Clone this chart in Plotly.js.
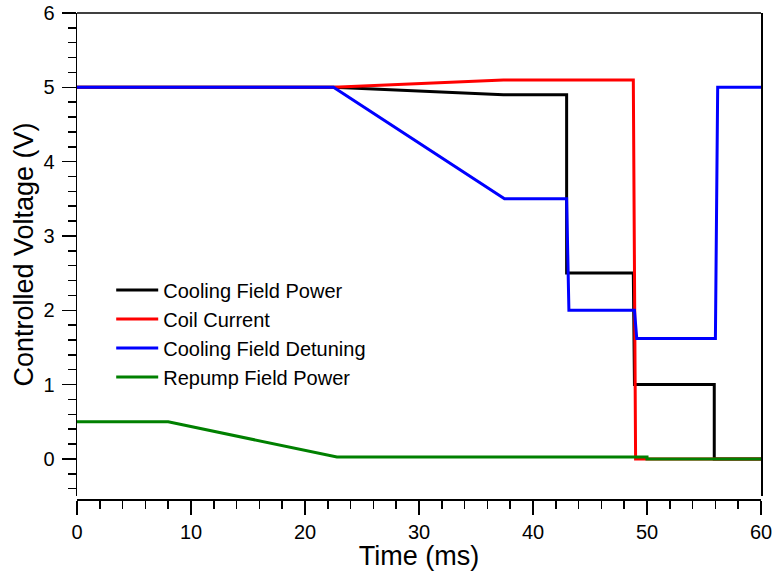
<!DOCTYPE html>
<html>
<head>
<meta charset="utf-8">
<script src="https://cdn.plot.ly/plotly-3.0.1.min.js"></script>
<style>html,body{margin:0;padding:0;background:#fff;}#chart{width:773px;height:571px;}</style>
</head>
<body>
<div id="chart"></div>
<script>
// Time (ms) and controlled voltage (V) for each channel
const coolingPowerTime = [0, 22.5, 37.4, 42.95, 42.95, 48.8, 48.9, 55.9, 55.9, 60];
const coolingPowerVolt = [5, 5, 4.9, 4.9, 2.5, 2.5, 1.0, 1.0, 0, 0];

const coilCurrentTime = [0, 22.5, 37.4, 48.8, 49.0, 60];
const coilCurrentVolt = [5, 5, 5.1, 5.1, 0, 0];

const detuningTime = [0, 22.5, 37.5, 42.95, 43.15, 48.9, 49.1, 56.0, 56.2, 60];
const detuningVolt = [5, 5, 3.5, 3.5, 2.0, 2.0, 1.62, 1.62, 5.0, 5.0];

const repumpTime = [0, 8, 22.8, 50, 50, 60];
const repumpVolt = [0.5, 0.5, 0.025, 0.025, 0, 0];

const seriesNames = ["Cooling Field Power", "Coil Current", "Cooling Field Detuning", "Repump Field Power"];
const seriesColors = ["#000000", "#ff0000", "#0000ff", "#008000"];

const xs = [coolingPowerTime, coilCurrentTime, detuningTime, repumpTime];
const ys = [coolingPowerVolt, coilCurrentVolt, detuningVolt, repumpVolt];

const traces = seriesNames.map((n, i) => ({
  x: xs[i], y: ys[i], name: n, type: 'scatter', mode: 'lines',
  line: {color: seriesColors[i], width: 3}
}));

const font = {family: 'Liberation Sans, Arial, Helvetica, sans-serif', color: '#000'};

const layout = {
  width: 773, height: 571,
  margin: {l: 77, r: 12, t: 13, b: 72},
  paper_bgcolor: '#fff', plot_bgcolor: '#fff',
  font: font,
  showlegend: true,
  legend: {
    x: 0.05, y: 0.47, xanchor: 'left', yanchor: 'top',
    font: {family: font.family, size: 20, color: '#000'},
    bgcolor: 'rgba(0,0,0,0)', itemwidth: 42, traceorder: 'normal'
  },
  xaxis: {
    range: [0, 60], domain: [0, 1], anchor: 'free', position: 0,
    showgrid: false, zeroline: false,
    showline: true, linecolor: '#000', linewidth: 1.5,
    ticks: 'outside', ticklen: 14, tickwidth: 1.5, tickcolor: '#000',
    tick0: 0, dtick: 10,
    minor: {ticks: 'outside', ticklen: 8, tickwidth: 1.5, tickcolor: '#000', dtick: 2, showgrid: false},
    tickfont: {family: font.family, size: 20, color: '#000'},
    title: {text: 'Time (ms)', font: {family: font.family, size: 27, color: '#000'}, standoff: 0}
  },
  yaxis: {
    range: [-0.5, 6], domain: [0.006, 1],
    showgrid: false, zeroline: false,
    showline: true, linecolor: '#000', linewidth: 1.5, mirror: true,
    ticks: 'outside', ticklen: 14, tickwidth: 1.5, tickcolor: '#000',
    tick0: 0, dtick: 1,
    minor: {ticks: 'outside', ticklen: 8, tickwidth: 1.5, tickcolor: '#000', dtick: 0.2, showgrid: false},
    tickfont: {family: font.family, size: 20, color: '#000'},
    ticklabelstandoff: 3,
    title: {text: 'Controlled Voltage (V)', font: {family: font.family, size: 27, color: '#000'}, standoff: 2}
  },
  shapes: [{
    type: 'line', xref: 'paper', yref: 'paper', x0: 0, x1: 1, y0: 1, y1: 1,
    line: {color: '#000', width: 1.5}
  }]
};

Plotly.newPlot('chart', traces, layout, {displayModeBar: false, staticPlot: true});
</script>
</body>
</html>
